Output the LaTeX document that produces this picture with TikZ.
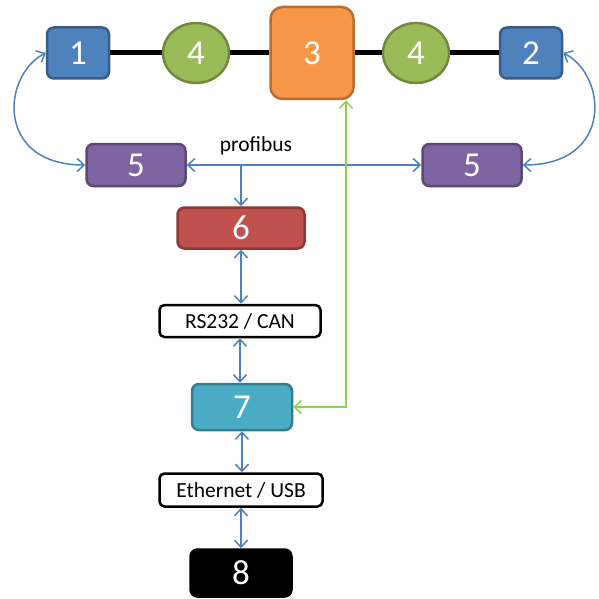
\documentclass[tikz,border=0pt]{standalone}
\usepackage{fontspec}
\setmainfont{Carlito}
\usetikzlibrary{arrows.meta,shapes.geometric,calc}
\definecolor{bluefill}{HTML}{4F81BD}
\definecolor{blueline}{HTML}{385D8A}
\definecolor{greenfill}{HTML}{9BBB59}
\definecolor{greenline}{HTML}{71893F}
\definecolor{orangefill}{HTML}{F79646}
\definecolor{orangeline}{HTML}{B66D31}
\definecolor{purplefill}{HTML}{8064A2}
\definecolor{purpleline}{HTML}{5C4776}
\definecolor{redfill}{HTML}{C0504D}
\definecolor{redline}{HTML}{8C3836}
\definecolor{tealfill}{HTML}{4BACC6}
\definecolor{tealline}{HTML}{357D91}
\definecolor{arrowblue}{HTML}{4F81BD}
\definecolor{arrowgreen}{HTML}{92D050}
\begin{document}
\begin{tikzpicture}[x=1pt,y=-1pt,
  numbox/.style={rectangle, rounded corners=7pt, line width=2.5pt, inner sep=0pt,
    text=white, font=\fontsize{35}{35}\selectfont},
  numell/.style={ellipse, line width=2.5pt, inner sep=0pt, text=white,
    fill=greenfill, draw=greenline, minimum width=66pt, minimum height=60pt,
    font=\fontsize{35}{35}\selectfont},
  txtbox/.style={rectangle, rounded corners=5pt, line width=2.5pt, draw=black,
    fill=white, inner sep=0pt, font=\fontsize{21.5}{21.5}\selectfont},
  bus/.style={line width=5pt, black},
  barb/.style={line width=1.5pt, arrowblue, {Straight Barb[length=7pt,width=13pt,line width=1.5pt]}-{Straight Barb[length=7pt,width=13pt,line width=1.5pt]}},
  barbone/.style={line width=1.5pt, arrowblue, -{Straight Barb[length=7pt,width=13pt,line width=1.5pt]}},
  gbarb/.style={line width=1.5pt, arrowgreen, {Straight Barb[length=7pt,width=13pt,line width=1.5pt]}-{Straight Barb[length=7pt,width=13pt,line width=1.5pt]}}
]
\useasboundingbox[fill=white] (0,0) rectangle (598,599);

\node[numbox, fill=bluefill, draw=blueline, minimum width=62pt, minimum height=51pt] (n1) at (78,53) {1};
\node[numell] (n4a) at (196,53) {4};
\node[numbox, rounded corners=12pt, fill=orangefill, draw=orangeline, minimum width=83pt, minimum height=92pt] (n3) at (312,53) {3};
\node[numell] (n4b) at (416,53) {4};
\node[numbox, fill=bluefill, draw=blueline, minimum width=62pt, minimum height=51pt] (n2) at (531,53) {2};

\node[numbox, fill=purplefill, draw=purpleline, minimum width=99pt, minimum height=42pt] (n5a) at (136,165) {5};
\node[numbox, fill=purplefill, draw=purpleline, minimum width=99pt, minimum height=42pt] (n5b) at (472,165) {5};

\node[numbox, fill=redfill, draw=redline, minimum width=127pt, minimum height=41pt] (n6) at (241,228) {6};
\node[txtbox, minimum width=161pt, minimum height=32pt] (rs) at (240,321) {RS232 / CAN};
\node[numbox, fill=tealfill, draw=tealline, minimum width=100pt, minimum height=46pt] (n7) at (242,407) {7};
\node[txtbox, minimum width=163pt, minimum height=33pt] (eth) at (241,490) {Ethernet / USB};
\node[numbox, fill=black, draw=black, minimum width=101pt, minimum height=47pt] (n8) at (241,573) {8};

\node[font=\fontsize{21.5}{21.5}\selectfont, inner sep=0pt] (pb) at (256,146) {profibus};

% black bus
\draw[bus] (n1.east) -- (n4a.west);
\draw[bus] (n4a.east) -- (n3.west);
\draw[bus] (n3.east) -- (n4b.west);
\draw[bus] (n4b.east) -- (n2.west);

% curved links
\draw[barb] (n1.west) .. controls (2,75) and (-5,165) .. (n5a.west);
\draw[barb] (n2.east) .. controls (607,75) and (614,165) .. (n5b.east);

% profibus
\draw[barb] (n5a.east) -- (n5b.west);
\coordinate (j) at (n6.north |- n5a.east);
\draw[barbone] (j) -- (n6.north);

% vertical chain
\draw[barb] (n6.south) -- (n6.south |- rs.north);
\draw[barb] (rs.south) -- (rs.south |- n7.north);
\draw[barb] (n7.south) -- (n7.south |- eth.north);
\draw[barb] (eth.south) -- (eth.south |- n8.north);

% green link
\draw[gbarb] (n7.east) -| ([xshift=34pt]n3.south);
\end{tikzpicture}
\end{document}
